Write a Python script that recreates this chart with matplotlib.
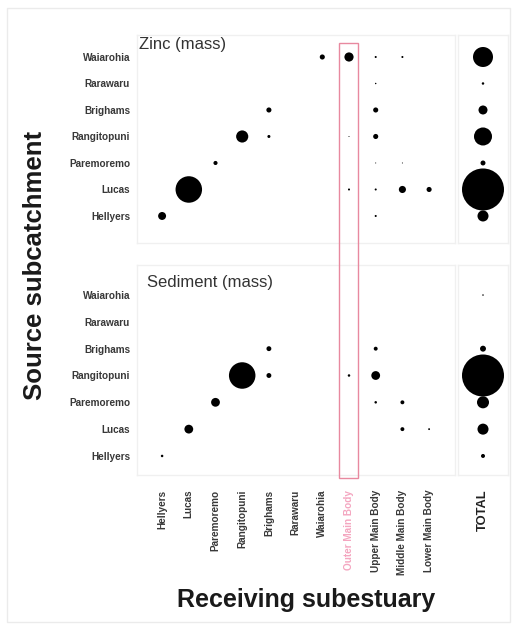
import matplotlib
matplotlib.use("Agg")
import matplotlib.pyplot as plt
from matplotlib.patches import Rectangle
import numpy as np

plt.rcParams['font.family'] = ['Liberation Sans', 'DejaVu Sans']

# Source subcatchments (rows, bottom to top) and receiving subestuaries (columns)
sources = ["Hellyers", "Lucas", "Paremoremo", "Rangitopuni", "Brighams",
           "Rarawaru", "Waiarohia"]
receivers = ["Hellyers", "Lucas", "Paremoremo", "Rangitopuni", "Brighams",
             "Rarawaru", "Waiarohia", "Outer Main Body", "Upper Main Body",
             "Middle Main Body", "Lower Main Body"]
highlight_receiver = "Outer Main Body"

# Relative mass delivered (% of largest source->subestuary transfer)
# rows follow `sources`, columns follow `receivers`
zinc = [
    # Hel   Luc   Par   Ran   Bri   Rar   Wai   Out   Upp   Mid   Low
    [9.0,  0,    0,    0,    0,    0,    0,    0,    0.6,  0,    0],     # Hellyers
    [0,    100,  0,    0,    0,    0,    0,    0.6,  0.6,  7.2,  3.7],   # Lucas
    [0,    0,    2.4,  0,    0,    0,    0,    0,    0.15, 0.15, 0],     # Paremoremo
    [0,    0,    0,    21,   1.3,  0,    0,    0.15, 3.7,  0,    0],     # Rangitopuni
    [0,    0,    0,    0,    3.7,  0,    0,    0,    3.7,  0,    0],     # Brighams
    [0,    0,    0,    0,    0,    0,    0,    0,    0.3,  0,    0],     # Rarawaru
    [0,    0,    0,    0,    0,    0,    3.7,  12,   0.6,  0.6,  0],     # Waiarohia
]
sediment = [
    [0.9,  0,    0,    0,    0,    0,    0,    0,    0,    0,    0],     # Hellyers
    [0,    11,   0,    0,    0,    0,    0,    0,    0,    2.2,  0.5],   # Lucas
    [0,    0,    11,   0,    0,    0,    0,    0,    0.9,  2.2,  0],     # Paremoremo
    [0,    0,    0,    100,  3.4,  0,    0,    0.9,  11,   0,    0],     # Rangitopuni
    [0,    0,    0,    0,    3.4,  0,    0,    0,    2.2,  0,    0],     # Brighams
    [0,    0,    0,    0,    0,    0,    0,    0,    0,    0,    0],     # Rarawaru
    [0,    0,    0,    0,    0,    0,    0,    0,    0,    0,    0],     # Waiarohia
]

# Total mass exported by each source subcatchment (% of largest)
zinc_total = [6.9, 100, 1.4, 18.4, 4.6, 0.35, 22.7]
sediment_total = [0.9, 6.9, 8.2, 100, 2.0, 0.0, 0.13]

W, H = 517, 627
DPI = 100
fig = plt.figure(figsize=(W / DPI, H / DPI), dpi=DPI)
fig.patch.set_facecolor("white")

# faint outer frame
fig.add_artist(Rectangle((7 / W, 1 - 622 / H), 503 / W, 614 / H,
                         transform=fig.transFigure, fill=False,
                         edgecolor="#ebebeb", lw=1.0))


def px_axes(x0, y0, x1, y1):
    return fig.add_axes([x0 / W, 1 - y1 / H, (x1 - x0) / W, (y1 - y0) / H])


def style(ax):
    ax.set_facecolor("white")
    for s in ax.spines.values():
        s.set_color("#f0f0f0")
        s.set_linewidth(1.0)
    ax.tick_params(length=0)


def diam_to_s(d_px):
    return (d_px * 72.0 / DPI) ** 2


MAIN_D = 26.5   # marker diameter (px) for 100 %
TOT_D = 42.0

panels = [
    ("Zinc (mass)", zinc, zinc_total, (35, 243), (-1.02, 6.83), 139, 45),
    ("Sediment (mass)", sediment, sediment_total, (265, 475), (-0.71, 7.12), 147, 283),
]

ncol = len(receivers)
nrow = len(sources)
for k, (title, mat, tot, (ytop, ybot), ylim, tx, ty) in enumerate(panels):
    ax = px_axes(137, ytop, 455, ybot)
    style(ax)
    m = np.array(mat, dtype=float)
    cols, rows = np.meshgrid(np.arange(ncol), np.arange(nrow))
    mask = m > 0
    sizes = diam_to_s(MAIN_D * np.sqrt(m[mask] / 100.0))
    ax.scatter(cols[mask], rows[mask], s=sizes, c="black", linewidths=0)
    ax.set_xlim(-0.94, 10.97)
    ax.set_ylim(*ylim)
    ax.set_yticks(np.arange(nrow))
    ax.set_yticklabels(sources, fontsize=7.2, fontweight="bold", color="#383838")
    ax.tick_params(axis="y", pad=5)
    ax.set_xticks(np.arange(ncol))
    if k == 1:
        labs = ax.set_xticklabels(receivers, rotation=90, fontsize=7.2,
                                  fontweight="bold", color="#383838",
                                  va="top")
        for lab, name in zip(labs, receivers):
            if name == highlight_receiver:
                lab.set_color("#f4a6c0")
        ax.tick_params(axis="x", pad=10.5)
    else:
        ax.set_xticklabels([])
    fig.text(tx / W, 1 - ty / H, title, fontsize=12, color="#333333",
             va="center", ha="left")

    axt = px_axes(458, ytop, 508, ybot)
    style(axt)
    t = np.array(tot, dtype=float)
    tm = t > 0
    axt.scatter(np.zeros(tm.sum()), np.arange(nrow)[tm],
                s=diam_to_s(TOT_D * np.sqrt(t[tm] / 100.0)), c="black",
                linewidths=0)
    axt.set_xlim(-1, 1)
    axt.set_ylim(*ylim)
    axt.set_yticks([])
    axt.set_xticks([0])
    if k == 1:
        axt.set_xticklabels(["TOTAL"], rotation=90, fontsize=9.3,
                            fontweight="bold", color="#222222", va="top")
        axt.tick_params(axis="x", pad=10.5)
    else:
        axt.set_xticklabels([])

# highlight box around the column of the outer receiving area
hx = 162 + 26.7 * receivers.index(highlight_receiver)
fig.add_artist(Rectangle(((hx - 9.5) / W, 1 - 478 / H), 19 / W, 435 / H,
                         transform=fig.transFigure, fill=False,
                         edgecolor="#e8899f", lw=1.0))

fig.text(35 / W, 1 - 265 / H, "Source subcatchment", rotation=90,
         fontsize=18.5, fontweight="bold", color="#1a1a1a",
         ha="center", va="center")
fig.text(306 / W, 1 - 600 / H, "Receiving subestuary", fontsize=18,
         fontweight="bold", color="#1a1a1a", ha="center", va="center")

fig.savefig("out.png", dpi=DPI, facecolor="white")
